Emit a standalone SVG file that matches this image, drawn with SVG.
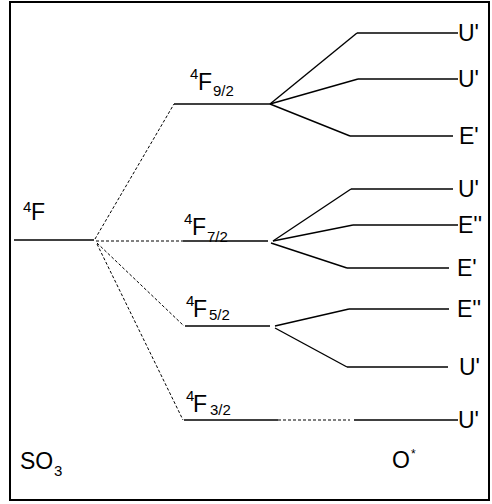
<svg xmlns="http://www.w3.org/2000/svg" width="492" height="504" viewBox="0 0 492 504">
  <style>
    .frame { fill: #fff; stroke: #000; stroke-width: 2; }
    .lvl { stroke: #000; stroke-width: 1.4; fill: none; }
    .dash { stroke: #000; stroke-width: 1; stroke-dasharray: 3 2; fill: none; }
    text { font-family: "Liberation Sans", Arial, sans-serif; fill: #000; }
    .t { font-size: 23px; }
    .s { font-size: 15px; }
  </style>

  <rect class="frame" x="10" y="2" width="479" height="498"/>

  <!-- free-ion term and its J multiplets -->
  <g id="term-4F">
    <line class="lvl" x1="14" y1="240" x2="94" y2="240"/>
    <text class="s" x="23" y="212">4</text>
    <text class="t" x="31" y="220">F</text>
  </g>

  <g id="J-9-2">
    <line class="lvl" x1="174" y1="104" x2="270" y2="104"/>
    <text class="s" x="190" y="79">4</text>
    <text class="t" x="198" y="90">F</text>
    <text class="s" x="213" y="96">9/2</text>
  </g>

  <g id="J-7-2">
    <line class="lvl" x1="183" y1="241" x2="268" y2="241"/>
    <text class="s" x="184" y="224">4</text>
    <text class="t" x="192" y="235">F</text>
    <text class="s" x="207" y="242">7/2</text>
  </g>

  <g id="J-5-2">
    <line class="lvl" x1="185" y1="326" x2="270" y2="326"/>
    <text class="s" x="186" y="306">4</text>
    <text class="t" x="193" y="317">F</text>
    <text class="s" x="209" y="320">5/2</text>
  </g>

  <g id="J-3-2">
    <line class="lvl" x1="184" y1="420" x2="278" y2="420"/>
    <text class="s" x="186" y="401">4</text>
    <text class="t" x="193" y="412">F</text>
    <text class="s" x="210" y="415">3/2</text>
  </g>

  <!-- crystal-field levels -->
  <g id="U1-9-2">
    <line class="lvl" x1="357" y1="33" x2="458" y2="33"/>
    <text class="t" x="458" y="41">U'</text>
  </g>
  <g id="U2-9-2">
    <line class="lvl" x1="358" y1="79" x2="458" y2="79"/>
    <text class="t" x="458" y="87">U'</text>
  </g>
  <g id="E-9-2">
    <line class="lvl" x1="350" y1="136" x2="453" y2="136"/>
    <text class="t" x="459" y="144">E'</text>
  </g>

  <g id="U-7-2">
    <line class="lvl" x1="351" y1="189" x2="453" y2="189"/>
    <text class="t" x="458" y="197">U'</text>
  </g>
  <g id="E2-7-2">
    <line class="lvl" x1="353" y1="225" x2="458" y2="225"/>
    <text class="t" x="458" y="233">E''</text>
  </g>
  <g id="E1-7-2">
    <line class="lvl" x1="347" y1="268" x2="449" y2="268"/>
    <text class="t" x="457" y="276">E'</text>
  </g>

  <g id="E2-5-2">
    <line class="lvl" x1="349" y1="309" x2="449" y2="309"/>
    <text class="t" x="457" y="317">E''</text>
  </g>
  <g id="U-5-2">
    <line class="lvl" x1="347" y1="367" x2="448" y2="367"/>
    <text class="t" x="459" y="375">U'</text>
  </g>

  <g id="U-3-2">
    <line class="lvl" x1="354" y1="420" x2="458" y2="420"/>
    <text class="t" x="458" y="428">U'</text>
  </g>

  <!-- correlation lines -->
  <g id="connectors">
    <line class="dash" x1="95" y1="239" x2="174" y2="104"/>
    <line class="dash" x1="96" y1="241" x2="183" y2="241"/>
    <line class="dash" x1="97" y1="243" x2="184" y2="326"/>
    <line class="dash" x1="97" y1="244" x2="183" y2="420"/>

    <line class="lvl" x1="270" y1="104" x2="357" y2="33"/>
    <line class="lvl" x1="270" y1="104" x2="358" y2="79"/>
    <line class="lvl" x1="270" y1="104" x2="350" y2="136"/>

    <line class="lvl" x1="273" y1="241" x2="351" y2="189"/>
    <line class="lvl" x1="273" y1="241" x2="353" y2="225"/>
    <line class="lvl" x1="271" y1="243" x2="347" y2="268"/>

    <line class="lvl" x1="275" y1="326" x2="349" y2="309"/>
    <line class="lvl" x1="275" y1="328" x2="347" y2="367"/>

    <line class="dash" x1="278" y1="420" x2="350" y2="420"/>
  </g>

  <!-- point-group labels -->
  <g id="label-SO3">
    <text class="t" x="20" y="469">SO</text>
    <text class="s" x="54" y="476">3</text>
  </g>
  <g id="label-O">
    <text class="t" x="392" y="468">O</text>
    <text style="font-size:12px" x="411" y="458">*</text>
  </g>
</svg>
